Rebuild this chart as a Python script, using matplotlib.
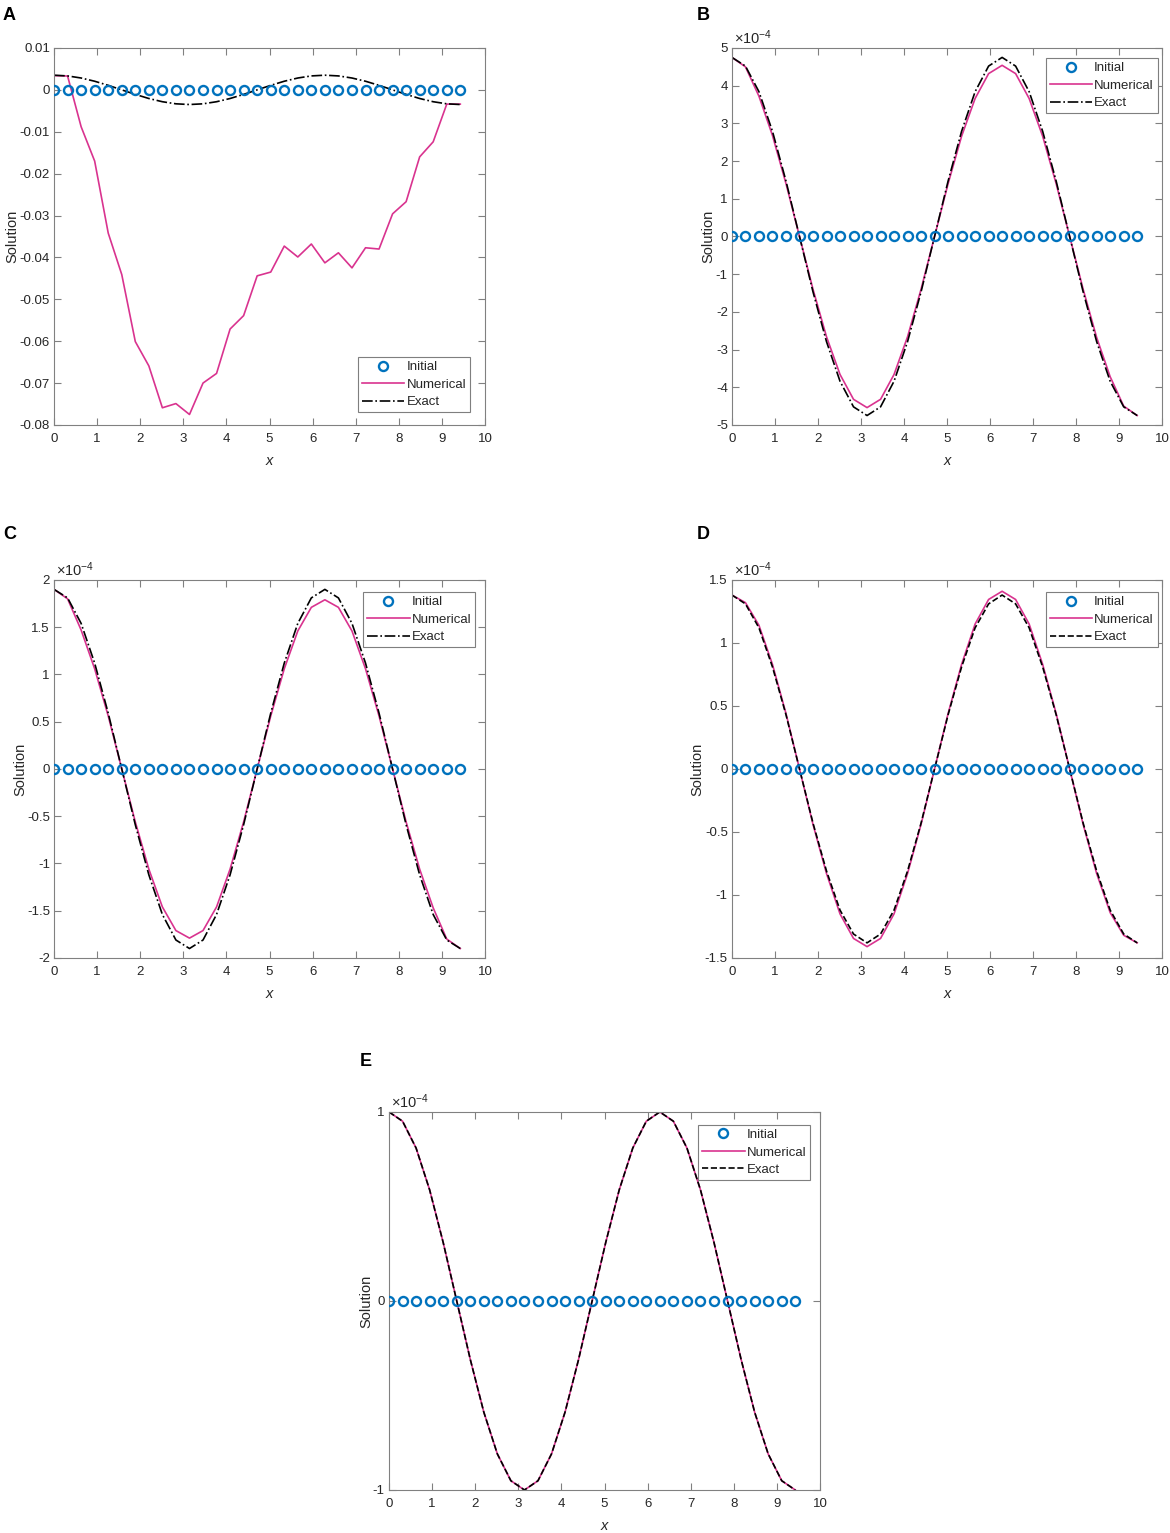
import numpy as np
import matplotlib
matplotlib.use('Agg')
import matplotlib.pyplot as plt

plt.rcParams['font.family'] = ['Liberation Sans', 'DejaVu Sans']
plt.rcParams['mathtext.fontset'] = 'custom'
plt.rcParams['mathtext.rm'] = 'Liberation Sans'
plt.rcParams['mathtext.it'] = 'Liberation Sans:italic'
plt.rcParams['axes.unicode_minus'] = False

# grid points (x = k*pi/10, k = 0..30)
x = [0.000, 0.314, 0.628, 0.942, 1.257, 1.571, 1.885, 2.199, 2.513, 2.827,
     3.142, 3.456, 3.770, 4.084, 4.398, 4.712, 5.027, 5.341, 5.655, 5.969,
     6.283, 6.597, 6.912, 7.226, 7.540, 7.854, 8.168, 8.482, 8.796, 9.111,
     9.425]
initial = [0.0] * 31

# panel A (plain values)
exact_a = [0.0035, 0.00333, 0.00283, 0.00206, 0.00108, 0.0, -0.00108, -0.00206, -0.00283, -0.00333,
           -0.0035, -0.00333, -0.00283, -0.00206, -0.00108, 0.0, 0.00108, 0.00206, 0.00283, 0.00333,
           0.0035, 0.00333, 0.00283, 0.00206, 0.00108, 0.0, -0.00108, -0.00206, -0.00283, -0.00333,
           -0.0035]
num_a = [0.0034, 0.0033, -0.0088, -0.0170, -0.0342, -0.0441, -0.0601, -0.0659, -0.0759, -0.0749,
         -0.0775, -0.0700, -0.0677, -0.0571, -0.0539, -0.0444, -0.0435, -0.0373, -0.0399, -0.0368,
         -0.0413, -0.0389, -0.0425, -0.0377, -0.0380, -0.0296, -0.0267, -0.0160, -0.0124, -0.0034,
         -0.0034]

# panels B-E (values in units of 1e-4)
exact_b = [4.75, 4.52, 3.84, 2.79, 1.47, 0.0, -1.47, -2.79, -3.84, -4.52,
           -4.75, -4.52, -3.84, -2.79, -1.47, 0.0, 1.47, 2.79, 3.84, 4.52,
           4.75, 4.52, 3.84, 2.79, 1.47, 0.0, -1.47, -2.79, -3.84, -4.52,
           -4.75]
num_b = [4.75, 4.50, 3.72, 2.68, 1.40, 0.0, -1.40, -2.66, -3.66, -4.32,
         -4.54, -4.32, -3.66, -2.66, -1.40, 0.0, 1.40, 2.66, 3.66, 4.32,
         4.54, 4.32, 3.66, 2.66, 1.40, 0.0, -1.40, -2.68, -3.72, -4.50,
         -4.75]

exact_c = [1.90, 1.81, 1.54, 1.12, 0.59, 0.0, -0.59, -1.12, -1.54, -1.81,
           -1.90, -1.81, -1.54, -1.12, -0.59, 0.0, 0.59, 1.12, 1.54, 1.81,
           1.90, 1.81, 1.54, 1.12, 0.59, 0.0, -0.59, -1.12, -1.54, -1.81,
           -1.90]
num_c = [1.90, 1.80, 1.47, 1.06, 0.56, 0.0, -0.56, -1.06, -1.46, -1.71,
         -1.79, -1.71, -1.46, -1.06, -0.56, 0.0, 0.56, 1.06, 1.46, 1.71,
         1.79, 1.71, 1.46, 1.06, 0.56, 0.0, -0.56, -1.06, -1.47, -1.80,
         -1.90]

exact_d = [1.38, 1.31, 1.12, 0.81, 0.43, 0.0, -0.43, -0.81, -1.12, -1.31,
           -1.38, -1.31, -1.12, -0.81, -0.43, 0.0, 0.43, 0.81, 1.12, 1.31,
           1.38, 1.31, 1.12, 0.81, 0.43, 0.0, -0.43, -0.81, -1.12, -1.31,
           -1.38]
num_d = [1.38, 1.32, 1.14, 0.83, 0.44, 0.0, -0.44, -0.83, -1.15, -1.345,
         -1.41, -1.345, -1.15, -0.83, -0.44, 0.0, 0.44, 0.83, 1.15, 1.345,
         1.41, 1.345, 1.15, 0.83, 0.44, 0.0, -0.44, -0.83, -1.14, -1.32,
         -1.38]

exact_e = [1.00, 0.951, 0.809, 0.588, 0.309, 0.0, -0.309, -0.588, -0.809, -0.951,
           -1.00, -0.951, -0.809, -0.588, -0.309, 0.0, 0.309, 0.588, 0.809, 0.951,
           1.00, 0.951, 0.809, 0.588, 0.309, 0.0, -0.309, -0.588, -0.809, -0.951,
           -1.00]
num_e = exact_e

yticks_a = [0.01, 0, -0.01, -0.02, -0.03, -0.04, -0.05, -0.06, -0.07, -0.08]
yticklabels_a = ['0.01', '0', '-0.01', '-0.02', '-0.03', '-0.04', '-0.05', '-0.06', '-0.07', '-0.08']
yticks_b = [-5, -4, -3, -2, -1, 0, 1, 2, 3, 4, 5]
yticks_c = [-2, -1.5, -1, -0.5, 0, 0.5, 1, 1.5, 2]
yticks_d = [-1.5, -1, -0.5, 0, 0.5, 1, 1.5]
yticks_e = [-1, 0, 1]

BLUE = '#0072BD'
PINK = '#D9338F'
AXC = '#808080'
TXT = '#262626'


def panel(rect, letter, letter_pos, exact, num, yticks, ylim, exact_ls, leg_loc, leg_anchor,
          labels=None, scaled=True):
    ax = plt.axes(rect)
    ax.plot(x, initial, 'o', color=BLUE, mfc='none', mew=1.7, ms=6.5, label='Initial', zorder=3)
    ax.plot(x, num, '-', color=PINK, lw=1.2, label='Numerical', zorder=2)
    ax.plot(x, exact, color='black', ls=exact_ls, lw=1.2, label='Exact', zorder=2)
    ax.set_xlim(0, 10)
    ax.set_ylim(*ylim)
    ax.set_xticks(range(0, 11))
    ax.set_yticks(yticks)
    if labels is None:
        labels = ['%g' % v for v in yticks]
    ax.set_yticklabels(labels)
    ax.tick_params(direction='in', length=5, width=0.8, color=AXC, labelcolor=TXT,
                   labelsize=9.5, top=True, right=True)
    ax.tick_params(axis='x', pad=6)
    ax.tick_params(axis='y', pad=3)
    for s in ax.spines.values():
        s.set_color(AXC)
        s.set_linewidth(0.8)
    ax.set_xlabel('x', fontstyle='italic', fontsize=10.5, color=TXT, labelpad=6)
    ax.set_ylabel('Solution', fontsize=10.5, color=TXT, labelpad=0)
    if scaled:
        ax.text(0.005, 1.003, r'$\times10^{\mathrm{-}4}$', transform=ax.transAxes, fontsize=10.5,
                color=TXT, ha='left', va='bottom')
    leg = ax.legend(loc=leg_loc, bbox_to_anchor=leg_anchor, fontsize=9.5, fancybox=False,
                    framealpha=1, edgecolor='#7f7f7f', borderaxespad=0, handlelength=3.2,
                    handletextpad=0.15, labelspacing=0.4, borderpad=0.3)
    leg.get_frame().set_linewidth(0.8)
    for t in leg.get_texts():
        t.set_color(TXT)
    plt.gcf().text(letter_pos[0] / 1170, 1 - letter_pos[1] / 1533, letter, fontsize=13,
                   fontweight='bold', va='center', ha='left')
    return ax


fig = plt.figure(figsize=(11.7, 15.33), dpi=100)

panel([0.0462, 0.7228, 0.3684, 0.2459], 'A', (3, 15), exact_a, num_a, yticks_a, (-0.08, 0.01),
      '-.', 'lower right', (0.965, 0.034), labels=yticklabels_a, scaled=False)
panel([0.6256, 0.7228, 0.3675, 0.2459], 'B', (697, 15), exact_b, num_b, yticks_b, (-5, 5),
      '-.', 'upper right', (0.99, 0.973))
panel([0.0462, 0.3751, 0.3684, 0.2466], 'C', (3, 535), exact_c, num_c, yticks_c, (-2, 2),
      '-.', 'upper right', (0.977, 0.968))
panel([0.6256, 0.3751, 0.3675, 0.2466], 'D', (697, 535), exact_d, num_d, yticks_d, (-1.5, 1.5),
      '--', 'upper right', (0.99, 0.968))
panel([0.3325, 0.02805, 0.3684, 0.2466], 'E', (360, 1062), exact_e, num_e, yticks_e, (-1, 1),
      '--', 'upper right', (0.977, 0.966))

plt.savefig('out.png', dpi=100)
